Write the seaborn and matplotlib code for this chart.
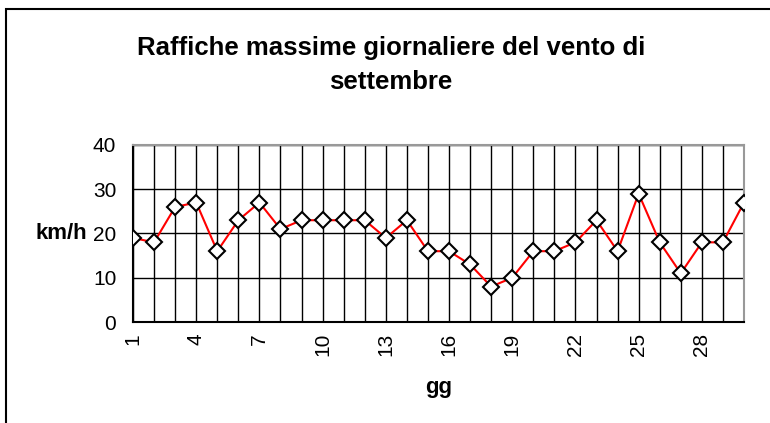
import matplotlib as mpl
mpl.use('Agg')
import matplotlib.pyplot as plt
import seaborn as sns
from matplotlib.patches import Rectangle

# daily maximum wind gusts, September
days = list(range(1, 31))
gusts = [19, 18, 26, 27, 16, 23, 27, 21, 23, 23,
         23, 23, 19, 23, 16, 16, 13, 8, 10, 16,
         16, 18, 23, 16, 29, 18, 11, 18, 18, 27]
y_ticks = [0, 10, 20, 30, 40]
x_labels = [str(d) if (d - 1) % 3 == 0 else '' for d in days]

TITLE = "Raffiche massime giornaliere del vento di\nsettembre"

sns.set_style('white')
plt.rcParams['font.family'] = ['Liberation Sans', 'DejaVu Sans']
plt.rcParams['text.color'] = 'black'
plt.rcParams['xtick.color'] = 'black'
plt.rcParams['ytick.color'] = 'black'
plt.rcParams['axes.labelcolor'] = 'black'

W, H = 770, 423
fig = plt.figure(figsize=(W / 100, H / 100), dpi=100)
ax = fig.add_axes([133 / W, 1 - 322 / H, (744 - 133) / W, (322 - 145) / H])

# chart area border (cut off on the right and bottom like the original)
fig.patches.append(Rectangle((6 / W, -0.1), 1.2, 1 - 9 / H + 0.1,
                             transform=fig.transFigure, fill=False,
                             edgecolor='black', linewidth=1.5))

sns.lineplot(x=days, y=gusts, ax=ax, color='red', linewidth=1.5,
             marker='D', markersize=8, markerfacecolor='white',
             markeredgecolor='black', markeredgewidth=1.5, zorder=3)

ax.set_xlim(1, 30)
ax.set_ylim(0, 40)
ax.set_xticks(days)
ax.set_xticklabels(x_labels, rotation=90, fontsize=15)
ax.set_yticks(y_ticks)
ax.set_yticklabels([str(v) for v in y_ticks], fontsize=15)

ax.grid(True, color='black', linewidth=1)
ax.set_axisbelow(True)

for spine in ['top', 'right']:
    ax.spines[spine].set_color('#999999')
    ax.spines[spine].set_linewidth(1.5)
for spine in ['left', 'bottom']:
    ax.spines[spine].set_color('black')
    ax.spines[spine].set_linewidth(1.5)

ax.tick_params(axis='x', direction='inout', length=8, width=1, pad=4)
ax.tick_params(axis='y', direction='out', length=5, width=1, pad=7)

ax.set_xlabel('gg', fontsize=16, fontweight='bold', va='center')
ax.xaxis.set_label_coords(0.5, -(387 - 322) / (322 - 145))
ax.set_ylabel('km/h', fontsize=16, fontweight='bold', rotation=0,
              ha='right', va='center')
ax.yaxis.set_label_coords(-(133 - 87) / (744 - 133), 0.5)

fig.text(391 / W, 1 - 65 / H, TITLE, ha='center', va='center',
         fontsize=18.5, fontweight='bold', linespacing=1.55)

plt.savefig('out.png', dpi=100)
